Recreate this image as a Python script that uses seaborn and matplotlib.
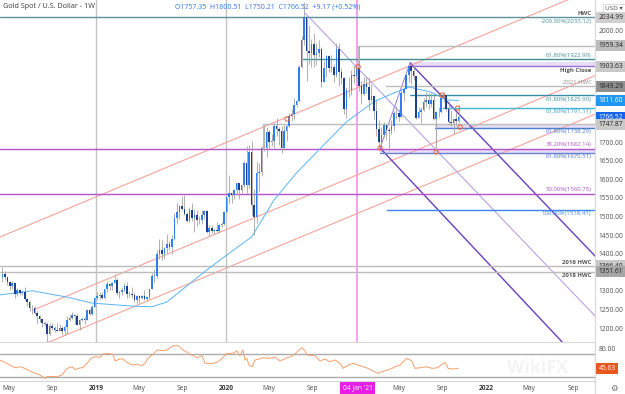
import matplotlib
matplotlib.use("Agg")
import matplotlib.pyplot as plt
import matplotlib.ticker as mticker
from matplotlib.lines import Line2D
import numpy as np
import pandas as pd
import seaborn as sns

# weekly gold candles, week 0 = 13 Apr 2018 (open of a week = close of the one before)
START = pd.Timestamp("2018-04-13")
FIRST_OPEN = 1336.0
CLOSES = [
    1345, 1336, 1323, 1314, 1320, 1291, 1302, 1294, 1298, 1279, 1270, 1253, 1255, 1241, 1231, 1223, 1214, 1212, 1184,
    1206, 1201, 1196, 1193, 1199, 1192, 1203, 1222, 1227, 1235, 1233, 1209, 1222, 1223, 1222, 1248, 1238, 1257, 1280,
    1285, 1290, 1282, 1304, 1318, 1314, 1322, 1328, 1293, 1298, 1302, 1313, 1292, 1291, 1290, 1275, 1286, 1280, 1286,
    1277, 1284, 1305, 1341, 1341, 1399, 1409, 1400, 1415, 1426, 1419, 1440, 1497, 1513, 1527, 1520, 1506, 1488, 1517,
    1497, 1505, 1489, 1490, 1505, 1514, 1459, 1468, 1462, 1464, 1460, 1476, 1479, 1511,
    1552, 1562, 1557, 1571, 1589, 1570, 1584, 1643, 1585, 1674, 1530, 1499, 1617, 1620, 1683, 1683, 1727, 1700, 1703,
    1743, 1735, 1730, 1685, 1730, 1743, 1771, 1775, 1799, 1810, 1902, 1975, 2035, 1944, 1940, 1964, 1934, 1940, 1950,
    1862, 1900, 1930, 1899, 1902, 1879, 1951, 1889, 1871, 1788, 1839, 1839, 1881, 1877,
    1898, 1850, 1828, 1856, 1848, 1814, 1824, 1784, 1734, 1700, 1719, 1745, 1733, 1729, 1744, 1777, 1777, 1768, 1831,
    1843, 1881, 1903, 1891, 1877, 1764, 1781, 1787, 1808, 1812, 1802, 1814, 1763, 1780, 1781, 1818, 1827, 1788, 1754,
    1750, 1761, 1757.35, 1766.52,
]
HIGHS = [
    1365, 1353, 1338, 1326, 1326, 1321, 1307, 1306, 1303, 1310, 1280, 1272, 1262, 1260, 1245, 1236, 1228, 1218, 1216,
    1214, 1214, 1206, 1214, 1211, 1205, 1208, 1233, 1234, 1243, 1238, 1237, 1225, 1230, 1230, 1250, 1250, 1262, 1283,
    1298, 1297, 1298, 1304, 1326, 1320, 1324, 1346, 1334, 1299, 1311, 1320, 1324, 1300, 1310, 1294, 1288, 1289, 1290,
    1303, 1287, 1306, 1348, 1358, 1411, 1439, 1437, 1419, 1452, 1434, 1449, 1510, 1535, 1530, 1555, 1557, 1512, 1524,
    1536, 1519, 1517, 1500, 1518, 1516, 1516, 1478, 1477, 1466, 1485, 1479, 1485, 1515,
    1553, 1611, 1563, 1574, 1591, 1591, 1585, 1649, 1689, 1692, 1703, 1575, 1645, 1644, 1690, 1747, 1739, 1731, 1722,
    1751, 1765, 1741, 1744, 1745, 1746, 1779, 1789, 1818, 1814, 1907, 1984, 2075, 2039, 2015, 1976, 1992, 1967, 1973,
    1955, 1917, 1933, 1933, 1933, 1911, 1965, 1965, 1898, 1875, 1848, 1875, 1893, 1906,
    1900, 1959, 1864, 1875, 1875, 1875, 1855, 1827, 1816, 1760, 1740, 1755, 1745, 1740, 1759, 1784, 1798, 1790, 1843,
    1845, 1890, 1913, 1916, 1903, 1877, 1795, 1795, 1818, 1834, 1832, 1832, 1833, 1782, 1795, 1823, 1834, 1827, 1809,
    1787, 1764, 1781, 1800.51,
]
LOWS = [
    1325, 1330, 1316, 1302, 1304, 1282, 1287, 1290, 1288, 1276, 1260, 1246, 1238, 1237, 1211, 1217, 1204, 1205, 1160,
    1182, 1196, 1189, 1191, 1192, 1181, 1182, 1183, 1219, 1225, 1211, 1207, 1196, 1218, 1211, 1221, 1235, 1236, 1256,
    1276, 1279, 1277, 1277, 1297, 1303, 1302, 1320, 1290, 1281, 1290, 1297, 1281, 1284, 1282, 1270, 1266, 1267, 1278,
    1275, 1273, 1279, 1305, 1323, 1335, 1385, 1382, 1386, 1401, 1411, 1400, 1437, 1480, 1492, 1516, 1505, 1485, 1484,
    1488, 1459, 1474, 1480, 1479, 1493, 1456, 1446, 1455, 1452, 1458, 1456, 1472, 1477,
    1511, 1536, 1536, 1546, 1563, 1547, 1563, 1580, 1562, 1576, 1504, 1451, 1482, 1567, 1608, 1676, 1660, 1681, 1690,
    1683, 1716, 1693, 1671, 1685, 1704, 1741, 1757, 1761, 1795, 1807, 1899, 1962, 1863, 1911, 1902, 1902, 1907, 1929,
    1848, 1862, 1874, 1888, 1889, 1860, 1876, 1850, 1855, 1775, 1764, 1820, 1826, 1859,
    1865, 1836, 1803, 1825, 1831, 1785, 1810, 1761, 1717, 1687, 1677, 1713, 1705, 1677, 1722, 1730, 1763, 1756, 1766,
    1809, 1843, 1862, 1855, 1867, 1761, 1764, 1750, 1784, 1795, 1789, 1794, 1758, 1684, 1768, 1778, 1808, 1782, 1745,
    1742, 1721, 1746, 1750.21,
]

# blue moving average
MA_WEEK = [-1, 12, 26, 36, 52, 60, 66, 74, 82, 90, 100, 109, 118, 127, 138, 149, 155, 163, 172, 178, 183]
MA_PRICE = [1289, 1300, 1283, 1267, 1259, 1257, 1270, 1313, 1356, 1396, 1445, 1544, 1617, 1679, 1754, 1808, 1826,
            1848, 1834, 1813, 1811.6]

# RSI pane
RSI_WEEK = [
    -1, 3.1, 5.1, 7.1, 9.1, 11.1, 12.3, 15.1, 17.1, 17.9,
    19.9, 21.9, 23.9, 26.0, 28.0, 29.2, 30.4, 32.4, 34.0, 35.6,
    37.2, 39.2, 40.4, 42.4, 44.4, 45.2, 47.2, 48.4, 50.0, 52.0,
    54.0, 56.0, 57.2, 58.4, 60.4, 62.1, 64.1, 66.1, 67.3, 68.5,
    70.5, 72.5, 74.1, 75.3, 78.1, 80.1, 81.3, 84.5, 86.5, 88.1,
    90.1, 92.5, 94.1, 95.3, 96.5, 97.3, 98.1, 98.9, 100.2, 101.4,
    104.6, 107.4, 109.4, 111.4, 114.2, 116.6, 118.6, 120.2, 121.4, 122.2,
    125.4, 127.4, 129.4, 131.4, 133.5, 135.5, 136.7, 138.7, 140.7, 142.7,
    144.7, 146.7, 148.7, 150.7, 152.3, 154.3, 156.3, 157.5, 159.5, 160.7,
    162.3, 164.3, 165.5, 167.5, 170.3, 172.4, 174.4, 176.4, 177.6, 178.8,
    180.8, 182.8,
]
RSI_VALUE = [
    59.7, 51.0, 46.4, 48.1, 45.3, 40.7, 38.4, 33.8, 28.1, 30.9,
    31.5, 30.9, 33.8, 45.3, 48.1, 43.0, 45.3, 47.0, 53.9, 62.5,
    65.4, 64.3, 70.0, 71.1, 69.4, 57.9, 61.4, 61.4, 55.6, 51.0,
    52.2, 49.8, 53.9, 62.5, 69.4, 76.9, 75.7, 76.9, 80.9, 84.3,
    84.3, 76.9, 72.9, 69.4, 63.6, 67.1, 53.9, 53.9, 56.7, 62.5,
    71.1, 71.1, 75.2, 67.1, 76.9, 59.7, 62.5, 51.0, 48.1, 59.7,
    63.6, 62.5, 64.8, 57.9, 63.6, 67.1, 75.2, 80.9, 75.2, 68.3,
    67.1, 57.9, 61.4, 56.7, 59.7, 53.9, 45.3, 51.0, 53.9, 51.0,
    48.1, 45.3, 40.7, 36.7, 39.5, 42.4, 45.3, 48.1, 51.0, 56.7,
    62.5, 57.9, 45.3, 46.4, 48.1, 45.3, 46.4, 52.2, 55.6, 45.3,
    44.1, 45.63,
]

# horizontal levels: price and the week they start from
LEVEL_PRICE = [2034.99, 1959.34, 1922.99, 1903.63, 1849.29, 1825.90, 1791.11, 1747.87, 1738.29,
               1682.14, 1670.51, 1560.75, 1518.41, 1366.40, 1351.61]
LEVEL_START = [-1, 142.7, 120.6, 163.5, 154, 163.5, 176.8, 104.6, 173.6, -1, 151.5, -1, 154.3, -1, -1]
LEVEL_COLOR = ["#5f9299", "#bcbcbc", "#3f8f94", "#9b6fd8", "#bcbcbc", "#3d8fa8", "#45b5d6", "#bcbcbc", "#4a7fd0",
               "#b552cf", "#6a7fd6", "#b552cf", "#3d85ee", "#bcbcbc", "#bcbcbc"]

# shaded zones (week start, low, high)
ZONE_START = [163.5, 151.5, 173.6]
ZONE_LOW = [1903.63, 1670.51, 1738.29]
ZONE_HIGH = [1916.0, 1682.14, 1747.87]

# short vertical guides (week, from, to)
GUIDE_WEEK = [104.6, 142.7, 174.0]
GUIDE_FROM = [1747.87, 1959.34, 1747.87]
GUIDE_TO = [1684.0, 1902.0, 1670.51]

# rising channel lines (week, price) pairs
CHANNEL_WEEK = [(-1, 238), (12.3, 238), (17.9, 238)]
CHANNEL_PRICE = [(1444.4, 2113.6), (1248.0, 1879.1), (1160.0, 1775.4)]

# pitchfork: median, upper, lower, handle
FORK_WEEK = [(121.4, 238.5), (163.5, 238.5), (151.5, 224.9), (151.5, 163.5)]
FORK_PRICE = [(2046.8, 1226.9), (1912.4, 1388.2), (1683.9, 1159.7), (1683.9, 1912.4)]

CIRCLE_WEEK = [114.2, 142.7, 151.5, 174.0, 176.4, 182.6, 183.6]
CIRCLE_PRICE = [1762, 1902, 1684, 1673, 1826, 1791, 1740]

# right-hand level notes: text, price of the line, above (1) / below (-1)
NOTE_TEXT = ["HWC", "-200.00%(2033.12)", "61.80%(1922.99)", "High Close", "2021 HWC", "61.80%(1825.90)",
             "61.80%(1791.11)", "61.80%(1738.29)", "38.20%(1682.14)", "61.80%(1670.51)", "50.00%(1560.75)",
             "100.00%(1518.41)", "2016 HWC", "2018 HWC"]
NOTE_PRICE = [2034.99, 2034.99, 1922.99, 1903.63, 1849.29, 1825.90, 1791.11, 1738.29, 1682.14, 1670.51,
              1560.75, 1518.41, 1366.40, 1351.61]
NOTE_SIDE = [1, -1, 1, -1, 1, -1, -1, -1, 1, -1, 1, -1, 1, -1]
NOTE_COLOR = ["#555555", "#4b8f98", "#3f8f94", "#555555", "#8a8a8a", "#3d8fa8", "#3aa0c8", "#4a7fd0",
              "#b552cf", "#5070d0", "#b552cf", "#3d85ee", "#555555", "#555555"]

# price-axis boxes
BOX_PRICE = [2034.99, 1959.34, 1903.63, 1849.29, 1811.60, 1766.52, 1747.87, 1366.40, 1351.61]
BOX_FACE = ["#cfcfcf", "#bdbdbd", "#c9c9c9", "#8f8f8f", "#2196f3", "#1565e8", "#c9c9c9", "#c9c9c9", "#a6a6a6"]
BOX_TEXT = ["#222222", "#222222", "#222222", "#222222", "white", "white", "#222222", "#222222", "#222222"]
# scale labels not hidden behind a box
PRICE_TICKS = [1200, 1250, 1300, 1400, 1450, 1500, 1550, 1600, 1650, 1700, 2000]

TICK_DATES = ["2018-05-01", "2018-09-01", "2019-01-01", "2019-05-01", "2019-09-01", "2020-01-01", "2020-05-01",
              "2020-09-01", "2021-01-04", "2021-05-01", "2021-09-01", "2022-01-01", "2022-05-01", "2022-09-01"]
TICK_LABELS = ["May", "Sep", "2019", "May", "Sep", "2020", "May", "Sep", "04 Jan '21", "May", "Sep", "2022",
               "May", "Sep"]
YEAR_LINES = ["2019-01-01", "2020-01-01"]
CROSSHAIR = "2021-01-04"


def week_of(date_str):
    return (pd.Timestamp(date_str) - START).days / 7.0


def main() -> None:
    sns.set_theme(style="white")
    plt.rcParams["font.family"] = ["Open Sans", "DejaVu Sans"]

    fig = plt.figure(figsize=(6.25, 3.94), dpi=100)
    ax = fig.add_axes([0, 52 / 394, 595 / 625, 342 / 394])
    ax2 = fig.add_axes([0, 13 / 394, 595 / 625, 38 / 394])
    xlim = (-0.92, 237.7)

    # --- main pane ---
    for d in YEAR_LINES:
        ax.axvline(week_of(d), color="#c4c4c4", lw=1.0, zorder=1)
    ax.axvline(week_of(CROSSHAIR), color="#ff8cf0", lw=1.2, zorder=1)

    for (w0, w1), (p0, p1) in zip(CHANNEL_WEEK, CHANNEL_PRICE):
        ax.plot([w0, w1], [p0, p1], color="#f5a39a", lw=0.8, zorder=2)

    fork_style = [("#b7a2e0", 0.8), ("#6a3fc0", 1.0), ("#6a3fc0", 1.0), ("#9b7ad8", 0.7)]
    for (w0, w1), (p0, p1), (c, lw) in zip(FORK_WEEK, FORK_PRICE, fork_style):
        ax.plot([w0, w1], [p0, p1], color=c, lw=lw, zorder=2)

    for w0, lo, hi in zip(ZONE_START, ZONE_LOW, ZONE_HIGH):
        ax.fill_between([w0, xlim[1]], lo, hi, color="#e6def5", lw=0, zorder=1.5)

    for p, w0, c in zip(LEVEL_PRICE, LEVEL_START, LEVEL_COLOR):
        ax.plot([w0, xlim[1]], [p, p], color=c, lw=1.0, zorder=2.2)

    for w, a, b in zip(GUIDE_WEEK, GUIDE_FROM, GUIDE_TO):
        ax.plot([w, w], [a, b], color="#bcbcbc", lw=0.8, zorder=2.2)

    # candles
    closes = np.array(CLOSES, dtype=float)
    opens = np.array([FIRST_OPEN] + CLOSES[:-1], dtype=float)
    weeks = np.arange(len(closes))
    up = closes >= opens
    ax.vlines(weeks, LOWS, HIGHS, color="#a3a3a3", lw=0.6, zorder=3)
    body = np.maximum(np.abs(closes - opens), 1.5)
    ax.bar(weeks, body, bottom=np.minimum(opens, closes), width=0.62,
           color=np.where(up, "#2f7ff0", "#1d3f8c"), linewidth=0, zorder=4)

    ma = pd.DataFrame({"week": MA_WEEK, "price": MA_PRICE})
    sns.lineplot(data=ma, x="week", y="price", ax=ax, color="#5ab4f2", lw=0.7, zorder=3.5)

    ax.scatter(CIRCLE_WEEK, CIRCLE_PRICE, s=10, facecolors="none", edgecolors="#f0643c", lw=0.7, zorder=5)

    for t, p, side, c in zip(NOTE_TEXT, NOTE_PRICE, NOTE_SIDE, NOTE_COLOR):
        bold = t.endswith("HWC") and t != "2021 HWC" or t == "High Close"
        ax.annotate(t, xy=(0.994, p), xycoords=("axes fraction", "data"),
                    xytext=(0, 1.0 * side), textcoords="offset points",
                    ha="right", va="bottom" if side > 0 else "top",
                    fontsize=4.3, color=c, fontweight="bold" if bold else "normal", zorder=6)

    ax.set_xlim(*xlim)
    ax.set_ylim(1162.4, 2081.7)
    ax.set_xlabel("")
    ax.set_ylabel("")
    ax.set_xticks([])
    ax.yaxis.tick_right()
    ax.set_yticks(PRICE_TICKS)
    ax.yaxis.set_major_formatter(mticker.FormatStrFormatter("%.2f"))
    ax.tick_params(axis="y", length=0, pad=2.4, labelsize=4.8, labelcolor="#4d4d4d")
    for s in ["left", "top"]:
        ax.spines[s].set_visible(False)
    ax.spines["right"].set_color("#d9d9d9")
    ax.spines["bottom"].set_color("#d6d6d6")
    ax.spines["right"].set_linewidth(0.8)
    ax.spines["bottom"].set_linewidth(0.8)

    ytrans = ax.get_yaxis_transform()
    for p, fc, tc in zip(BOX_PRICE, BOX_FACE, BOX_TEXT):
        ax.text(1.006, p, f"{p:.2f}", transform=ytrans, ha="left", va="center", fontsize=4.8,
                color=tc, clip_on=False, zorder=7,
                bbox=dict(boxstyle="square,pad=0.32", facecolor=fc, edgecolor="none"))

    # --- RSI pane ---
    rsi = pd.DataFrame({"week": RSI_WEEK, "rsi": RSI_VALUE})
    ax2.axhline(70, color="#ababab", lw=1.0, zorder=1)
    ax2.axhline(30, color="#ababab", lw=1.0, zorder=1)
    ax2.text(0.955, 0.35, "WikiFX", transform=ax2.transAxes, ha="right", va="center",
             fontsize=13, fontweight="bold", color="#f4f4f4", zorder=0)
    sns.lineplot(data=rsi, x="week", y="rsi", ax=ax2, color="#f5a06c", lw=0.7, zorder=3)
    ax2.set_xlim(*xlim)
    ax2.set_ylim(23.6, 88.9)
    ax2.set_xlabel("")
    ax2.set_ylabel("")
    ax2.yaxis.tick_right()
    ax2.set_yticks([80])
    ax2.yaxis.set_major_formatter(mticker.FormatStrFormatter("%.2f"))
    ax2.tick_params(axis="y", length=0, pad=2.4, labelsize=4.8, labelcolor="#4d4d4d")
    ax2.set_xticks([week_of(d) for d in TICK_DATES])
    ax2.set_xticklabels(TICK_LABELS)
    ax2.tick_params(axis="x", length=0, pad=2.6, labelsize=4.8, labelcolor="#4d4d4d")
    for lbl in ax2.get_xticklabels():
        if lbl.get_text() in ("2019", "2020", "2022"):
            lbl.set_fontweight("bold")
            lbl.set_color("#333333")
        if lbl.get_text().startswith("04 Jan"):
            lbl.set_color("white")
            lbl.set_bbox(dict(boxstyle="square,pad=0.45", facecolor="#e61ee6", edgecolor="none"))
    for s in ["left", "top"]:
        ax2.spines[s].set_visible(False)
    ax2.spines["right"].set_color("#d9d9d9")
    ax2.spines["bottom"].set_color("#d6d6d6")
    ax2.spines["right"].set_linewidth(0.8)
    ax2.spines["bottom"].set_linewidth(0.8)
    ax2.text(1.006, RSI_VALUE[-1], f"{RSI_VALUE[-1]:.2f}", transform=ax2.get_yaxis_transform(),
             ha="left", va="center", fontsize=4.8, color="white", clip_on=False, zorder=7,
             bbox=dict(boxstyle="square,pad=0.32", facecolor="#e8581e", edgecolor="none"))

    # --- chrome ---
    fig.add_artist(Line2D([595 / 625, 595 / 625], [0, 1], color="#d9d9d9", lw=0.8))
    fig.text(0.005, 1 - 7 / 394, "Gold Spot / U.S. Dollar - 1W", fontsize=5.2, color="#3a3a3a",
             ha="left", va="center")
    fig.text(175 / 625, 1 - 7 / 394, "O1757.35  H1800.51  L1750.21  C1766.52  +9.17 (+0.52%)",
             fontsize=5.0, color="#2f74f0", ha="left", va="center")
    fig.text(614 / 625, 1 - 8 / 394, "USD \u25be", fontsize=4.6, color="#444444", ha="center", va="center",
             bbox=dict(boxstyle="square,pad=0.3", facecolor="white", edgecolor="#cccccc", lw=0.5))
    fig.text(614 / 625, 1 - 388 / 394, "\u2699", fontsize=6, color="#666666", ha="center", va="center",
             family="DejaVu Sans")

    fig.savefig("out.png", dpi=100)
    plt.close(fig)


if __name__ == "__main__":
    main()
